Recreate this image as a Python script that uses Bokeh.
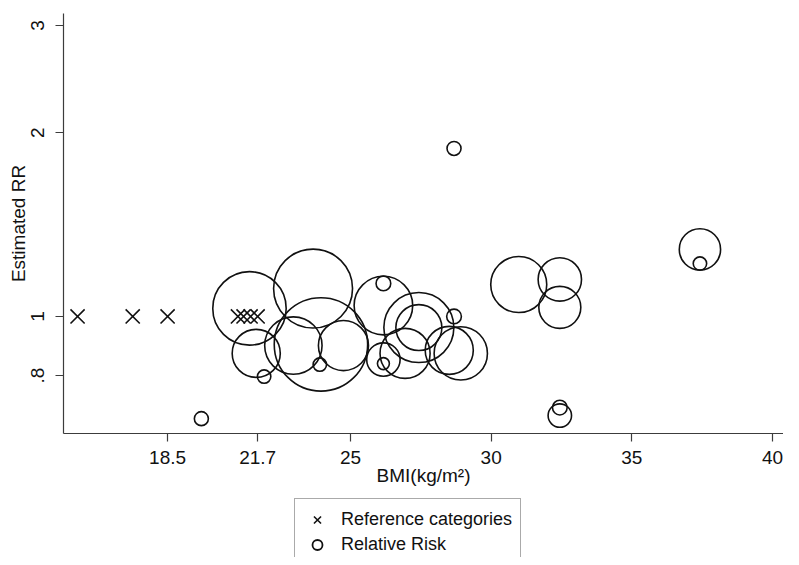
import numpy as np
from bokeh.plotting import figure
from bokeh.layouts import column
from bokeh.models import (ColumnDataSource, FixedTicker, Legend, LegendItem, Range1d)
from bokeh.embed import file_html
from bokeh.resources import INLINE

# Reference categories (RR fixed at 1)
ref_bmi = [15.3, 17.26, 18.5, 21.0, 21.2, 21.45, 21.7]
ref_rr = [1.0, 1.0, 1.0, 1.0, 1.0, 1.0, 1.0]

# Relative risk estimates with their (area-proportional) study weights
rr_bmi = [19.70, 28.68, 37.42, 37.42, 30.98, 32.44, 32.44, 32.44, 32.44,
          26.17, 26.17, 27.43, 27.43, 28.68, 26.17, 26.17, 26.94, 28.51,
          28.92, 21.41, 23.67, 21.65, 21.93, 23.95, 22.97, 24.75, 23.91]
rr_val = [0.680, 1.885, 1.288, 1.221, 1.128, 1.150, 1.035, 0.709, 0.688,
          1.042, 1.133, 0.959, 0.959, 1.000, 0.850, 0.837, 0.870, 0.880,
          0.870, 1.031, 1.111, 0.870, 0.797, 0.900, 0.896, 0.896, 0.834]
rr_weight = [1.0, 1.0, 8.7, 0.92, 16.0, 9.6, 9.0, 1.1, 2.8,
             17.5, 1.1, 25.0, 10.8, 1.1, 5.7, 0.73, 12.8, 11.8,
             14.5, 27.5, 31.8, 11.8, 0.92, 44.5, 16.8, 12.8, 0.92]

x_ticks = [18.5, 21.7, 25, 30, 35, 40]
x_tick_labels = ["18.5", "21.7", "25", "30", "35", "40"]
y_ticks = [0.8, 1, 2, 3]
y_tick_labels = [".8", "1", "2", "3"]
legend_labels = ["Reference categories", "Relative Risk"]

FONT = "Liberation Sans"
INK = "#111111"
AXIS = "#3c3c3c"

marker_scale = 14.0  # px diameter for weight 1
sizes = [marker_scale * np.sqrt(w) for w in rr_weight]

p = figure(width=783, height=493, output_backend="svg", toolbar_location=None,
           y_axis_type="log",
           x_range=Range1d(14.80, 40.39), y_range=Range1d(0.643, 3.137),
           min_border_left=63, min_border_right=0, min_border_top=13,
           min_border_bottom=60)
p.outline_line_color = None
p.xgrid.visible = False
p.ygrid.visible = False
p.background_fill_color = "white"
p.border_fill_color = "white"

src_ref = ColumnDataSource(dict(x=ref_bmi, y=ref_rr))
src_rr = ColumnDataSource(dict(x=rr_bmi, y=rr_val, s=sizes))

p.scatter("x", "y", source=src_ref, marker="x", size=20,
          line_color=INK, line_width=1.6)
p.scatter("x", "y", source=src_rr, marker="circle", size="s",
          fill_color=None, line_color=INK, line_width=1.6)

for ax in (p.xaxis[0], p.yaxis[0]):
    ax.axis_line_color = AXIS
    ax.axis_line_width = 1.2
    ax.major_tick_line_color = AXIS
    ax.major_tick_line_width = 1.2
    ax.major_tick_out = 8
    ax.major_tick_in = 0
    ax.minor_tick_line_color = None
    ax.major_label_text_font = FONT
    ax.major_label_text_font_size = "19px"
    ax.major_label_text_color = INK
    ax.axis_label_text_font = FONT
    ax.axis_label_text_font_size = "19px"
    ax.axis_label_text_font_style = "normal"
    ax.axis_label_text_color = INK

p.xaxis[0].ticker = FixedTicker(ticks=x_ticks)
p.xaxis[0].major_label_overrides = dict(zip(x_ticks, x_tick_labels))
p.xaxis[0].axis_label = "BMI(kg/m\u00b2)"
p.xaxis[0].major_label_standoff = 9
p.xaxis[0].axis_label_standoff = -2

p.yaxis[0].ticker = FixedTicker(ticks=y_ticks)
p.yaxis[0].major_label_overrides = dict(zip(y_ticks, y_tick_labels))
p.yaxis[0].major_label_orientation = "vertical"
p.yaxis[0].axis_label = "Estimated RR"
p.yaxis[0].major_label_standoff = 11
p.yaxis[0].axis_label_standoff = 0

# Legend strip below the plot (legend box runs past the bottom edge, as in the original)
lg = figure(width=783, height=64, output_backend="svg", toolbar_location=None,
            x_range=Range1d(0, 1), y_range=Range1d(0, 1),
            x_axis_location=None, y_axis_location=None,
            min_border=0, min_border_left=0, min_border_right=0,
            min_border_top=0, min_border_bottom=0)
lg.outline_line_color = None
lg.xgrid.visible = False
lg.ygrid.visible = False
lg.background_fill_color = "white"
lg.border_fill_color = "white"
# legend-only renderers: their single point lies outside the visible range
offscreen = dict(x=[-5.0], y=[-5.0])
lr_ref = lg.scatter("x", "y", source=ColumnDataSource(offscreen), marker="x",
                    line_color=INK, line_width=1.6)
lr_rr = lg.scatter("x", "y", source=ColumnDataSource(offscreen), marker="circle",
                   fill_color=None, line_color=INK, line_width=1.8)

legend = Legend(items=[LegendItem(label=legend_labels[0], renderers=[lr_ref]),
                       LegendItem(label=legend_labels[1], renderers=[lr_rr])],
                location=(231, -9), orientation="vertical",
                padding=8, spacing=0, margin=0,
                glyph_width=28, glyph_height=25, label_height=25,
                label_standoff=10,
                label_text_font=FONT, label_text_font_size="18px",
                label_text_color=INK,
                border_line_color="#555555", border_line_width=1,
                background_fill_color="white", background_fill_alpha=1)
lg.add_layout(legend, "center")

layout = column(p, lg, spacing=0)
open("out.html", "w").write(file_html(layout, INLINE))
